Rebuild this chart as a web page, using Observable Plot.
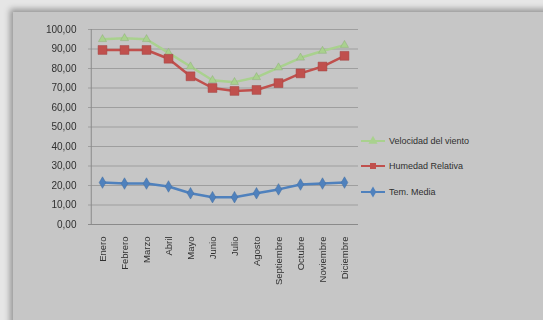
<!DOCTYPE html>
<html><head><meta charset="utf-8">
<script src="https://cdn.jsdelivr.net/npm/d3@7"></script>
<script src="https://cdn.jsdelivr.net/npm/@observablehq/plot@0.6"></script>
<style>
html,body{margin:0;padding:0;}
body{width:543px;height:320px;overflow:hidden;background:#e6e6e6;position:relative;font-family:"Liberation Sans",Arial,sans-serif;}
#panel{position:absolute;left:13px;top:12px;width:540px;height:320px;background:#c6c6c6;box-shadow:-3px -3px 6px rgba(0,0,0,0.35);}
#chart{position:absolute;left:0;top:0;}
#legend{position:absolute;left:361px;top:128px;font-size:9px;color:#303030;}
#legend div{height:25.5px;display:flex;align-items:center;}
#legend svg{margin-right:4px;}
</style></head>
<body>
<div id="panel"></div>
<div id="chart"></div>
<div id="legend"></div>
<script>
const months = ["Enero","Febrero","Marzo","Abril","Mayo","Junio","Julio","Agosto","Septiembre","Octubre","Noviembre","Diciembre"];
const velocidad = [95,95.5,95,88,81,74,73,75.5,80.5,85.5,89,92];
const humedad = [89.5,89.5,89.5,85,76,70,68.5,69,72.5,77.5,81,86.5];
const temMedia = [21.5,21,21,19.5,16,14,14,16,18,20.5,21,21.5];
const yTicks = [0,10,20,30,40,50,60,70,80,90,100];
const seriesNames = ["Velocidad del viento","Humedad Relativa","Tem. Media"];
const colors = {"Velocidad del viento":"#a9d18e","Humedad Relativa":"#c0504d","Tem. Media":"#4f81bd"};
const symbols = {"Velocidad del viento":"triangle","Humedad Relativa":"square","Tem. Media":"diamond"};
const radii = {"Velocidad del viento":3,"Humedad Relativa":5,"Tem. Media":3.5};

const rows = [];
[velocidad, humedad, temMedia].forEach((arr, si) => {
  arr.forEach((v, i) => rows.push({month: months[i], value: v, series: seriesNames[si]}));
});
const order = ["Tem. Media","Velocidad del viento","Humedad Relativa"];

const fmt = d => d.toFixed(2).replace(".", ",");

const plot = Plot.plot({
  width: 543, height: 320,
  marginLeft: 88, marginRight: 185, marginTop: 29, marginBottom: 96,
  style: {background: "transparent", fontFamily: "'Liberation Sans',Arial,sans-serif", fontSize: "9px", color: "#303030"},
  x: {type: "point", domain: months, padding: 0.5, label: null},
  y: {domain: [0,100], ticks: yTicks, label: null},
  marks: [
    Plot.gridY(yTicks.filter(d => d > 0), {stroke: "#9e9e9e", strokeOpacity: 1, strokeWidth: 1}),
    Plot.ruleY([0], {stroke: "#8a8a8a"}),
    Plot.ruleX([months[0]], {y1: 0, y2: 100, stroke: "#8a8a8a", dx: -11.25}),
    Plot.axisY({ticks: yTicks, tickFormat: fmt, tickSize: 0, tickPadding: 12, fontSize: 10}),
    Plot.axisX({tickRotate: -90, tickSize: 0, tickPadding: 12, fontSize: 9.5}),
    ...order.map(s => Plot.line(rows.filter(r => r.series === s), {x: "month", y: "value", stroke: colors[s], strokeWidth: 2.5})),
    ...order.map(s => Plot.dot(rows.filter(r => r.series === s), {x: "month", y: "value", fill: colors[s], stroke: d3.color(colors[s]).darker(0.5).formatHex(), strokeWidth: 0.5, symbol: symbols[s], r: radii[s]}))
  ]
});
plot.style.filter = "blur(0.5px)";
document.getElementById("chart").appendChild(plot);

const leg = document.getElementById("legend");
seriesNames.forEach(s => {
  const div = document.createElement("div");
  const sym = d3.symbol().type({triangle: d3.symbolTriangle, square: d3.symbolSquare, diamond: d3.symbolDiamond}[symbols[s]]).size(36)();
  div.innerHTML = `<svg width="24" height="12"><line x1="0" x2="24" y1="6" y2="6" stroke="${colors[s]}" stroke-width="2"/><path d="${sym}" transform="translate(12,6)" fill="${colors[s]}"/></svg><span>${s}</span>`;
  leg.appendChild(div);
});
</script>
</body></html>
